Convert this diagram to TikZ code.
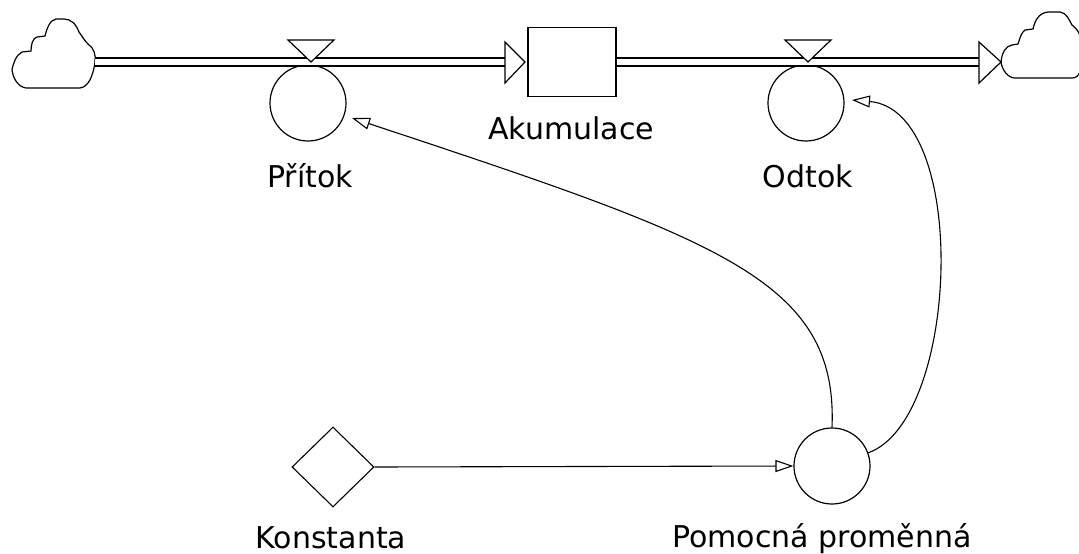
\documentclass[tikz,border=0pt]{standalone}
\usepackage{fontspec}
\setmainfont{DejaVu Sans}
\usetikzlibrary{arrows.meta,shapes.geometric}
\begin{document}
\begin{tikzpicture}[x=1pt,y=-1pt,
  lbl/.style={anchor=base,font=\fontsize{30}{32}\selectfont,inner sep=0pt},
  line/.style={draw=black,line width=1.2pt},
  aux/.style={circle,draw=black,line width=1.2pt,minimum size=76pt,inner sep=0pt},
  pipe/.style={draw=black,line width=10pt,postaction={draw=white,line width=6.6pt}},
  info/.style={draw=black,line width=1.1pt,-{Triangle[open,length=18pt,width=12pt]}},
  tri/.style={draw=black,line width=1.2pt,fill=white}]
\useasboundingbox (0,0) rectangle (1079,554);
% clouds
\coordinate (cl) at (95,62);
\coordinate (cr) at (1001,62);
\draw[line] (95,62) .. controls (96,55) and (94,48) .. (88,44)
  .. controls (84,40) and (82,36) .. (79,32) .. controls (76,24) and (71,19) .. (64,19)
  -- (56,19) .. controls (50,20) and (47,28) .. (45,36) -- (37,37)
  .. controls (33,38) and (31,44) .. (31,51) -- (22,52)
  .. controls (16,55) and (13,64) .. (12,70) .. controls (13,78) and (18,87) .. (26,88)
  -- (80,88) .. controls (88,87) and (93,77) .. (95,62);
\draw[line] (1001,62) .. controls (1002,52) and (1006,46) .. (1012,45) -- (1018,44)
  .. controls (1020,38) and (1021,33) .. (1025,30) -- (1033,29)
  .. controls (1035,20) and (1039,13) .. (1048,12) -- (1060,12)
  .. controls (1067,13) and (1069,20) .. (1072,25) .. controls (1076,28) and (1079,32) .. (1080,36)
  -- (1080,72) .. controls (1078,76) and (1076,78) .. (1072,78) -- (1015,78)
  .. controls (1008,78) and (1002,70) .. (1001,62);
% stock
\node[draw=black,line width=1.2pt,minimum width=88pt,minimum height=69pt,inner sep=0pt] (stock) at (572,62) {};
% flows (valves)
\node[aux] (pritok) at (308,103) {};
\node[aux] (odtok) at (806,103) {};
\coordinate (v1) at (311,62);
\coordinate (v2) at (808,62);
% pipes
\path[pipe] (cl) -- (505,62);
\path[pipe] (stock.east |- cr) -- (979,62);
\draw[tri] (505,42) -- (525,62) -- (505,83) -- cycle;
\draw[tri] (979,42) -- (1001,62) -- (979,83) -- cycle;
\draw[tri] (288,40) -- (334,40) -- (v1) -- cycle;
\draw[tri] (785,40) -- (831,40) -- (v2) -- cycle;
% labels
\node[lbl] (lA) at (571,139) {Akumulace};
\node[lbl] (lP) at (310,187) {Přítok};
\node[lbl] (lO) at (808,187) {Odtok};
% constant and auxiliary
\node[diamond,draw=black,line width=1.1pt,minimum width=82pt,minimum height=80pt,inner sep=0pt] (konst) at (333,467) {};
\node[aux] (pom) at (832,466) {};
\node[lbl] (lK) at (331,548) {Konstanta};
\node[lbl] (lPm) at (822,547) {Pomocná proměnná};
% info links
\draw[info] (konst.east) -- (pom.west);
\draw[info] (pom.north) .. controls (838,280) and (720,240) .. (352,118);
\draw[info] (pom.20) .. controls (960,420) and (970,110) .. (852,100);
\end{tikzpicture}
\end{document}
